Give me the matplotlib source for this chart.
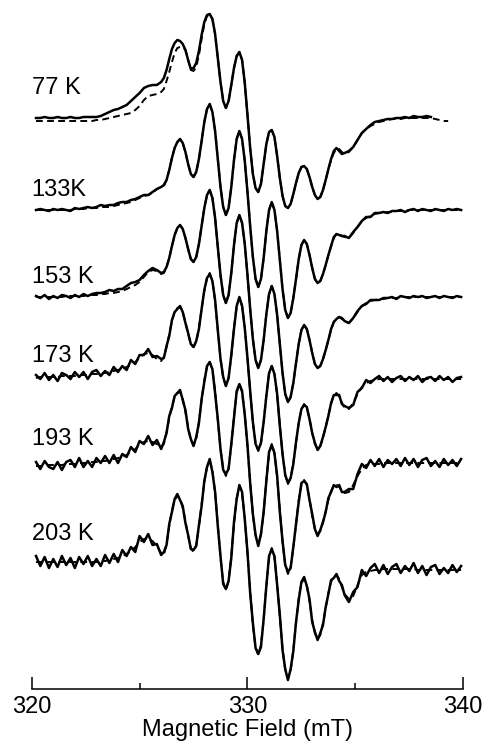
import numpy as np
import matplotlib.pyplot as plt

plt.rcParams['font.family'] = ['Liberation Sans', 'DejaVu Sans']

nan = np.nan

# field sampling (mT): 0.2 on the wings, 0.125 through the hyperfine lines
field = np.concatenate([np.arange(320.2, 325.81, 0.2),
                        np.arange(326.0, 334.51, 0.125),
                        np.arange(334.7, 339.91, 0.2)])

labels = ['77 K', '133K', '153 K', '173 K', '193 K', '203 K']
offsets = [571, 479, 392, 310, 225, 123]
label_y = [601, 499, 412, 333, 250, 155]

# --- 77 K: simulation (dashed) and experiment (solid) ---
fit_77 = [
    -3, -3, -3, -3, -3, -3, -3, -3, -3, -3, -3, -3, -3, -3,
    -2, -2, -1, 0, 1, 2, 3, 4, 5, 8, 12, 18, 22, 23, 24,
    26, 29, 37, 46, 56, 65, 70, 71,
    71, 68, 58, 48, 47,
    51, 63, 79, 94, 102, 103,
    99, 84, 60, 36, 17, 10,
    17, 33, 50, 62, 66,
    58, 35, 3, -30, -56, -70, -74,
    -66, -46, -26, -14, -12,
    -19, -38, -60, -78, -88, -90,
    -86, -76, -65, -55, -49, -48,
    -51, -59, -69, -77, -81,
    -79, -72, -62, -51, -42, -35, -31, -31, -34, -36,
    -34, -29, -22, -15, -11, -8, -6, -4, -3, -2, -1, -1,
    -1, 0, 0, 0, 0, 0, 0, 0, -1, -2, -3, -3, nan, nan, nan,
]
exp_77 = [
    0, 0, 1, 0, 0, 1, 0, 0, 1, 0, 0, 1, 1,
    1, 1, 2, 4, 6, 8, 9, 11, 13, 17, 21, 25, 30, 32, 33, 33,
    36, 40, 48, 59, 69, 75, 78, 77,
    74, 68, 58, 49, 50,
    55, 67, 83, 96, 103, 104,
    99, 84, 60, 36, 17, 10,
    17, 33, 50, 62, 66,
    58, 35, 3, -30, -56, -70, -74,
    -66, -46, -26, -14, -12,
    -19, -38, -60, -78, -88, -90,
    -86, -76, -65, -55, -49, -48,
    -51, -59, -69, -77, -81,
    -79, -72, -62, -51, -41, -33, -30, -33, -36, -35,
    -33, -29, -22, -15, -11, -7, -4, -3, -2, -1, -1, 0,
    0, 1, 0, 2, 1, 1, 2, 1, nan, nan, nan, nan, nan, nan, nan,
]

# --- 133 K ---
fit_133 = [
    0, 0, 0, 0, 0, 0, 0, 0, 0, 1, 1, 1, 2, 2, 2,
    3, 3, 3, 4, 5, 6, 7, 8, 10, 12, 14, 15, 17, 21,
    23, 24, 30, 40, 52, 62, 68, 71,
    67, 58, 46, 36, 33,
    38, 51, 69, 88, 101, 106,
    98, 79, 51, 23, 3, -5,
    2, 23, 50, 71, 79,
    71, 49, 18, -16, -47, -69, -77,
    -69, -48, -21, 0, 8,
    0, -21, -50, -79, -100, -108,
    -103, -88, -69, -49, -35, -30,
    -34, -45, -58, -69, -73,
    -71, -64, -55, -45, -36, -28, -24, -24, -26, -27,
    -28, -23, -17, -11, -8, -6, -4, -3, -3, -2, -2, -1,
    -1, -1, 0, 0, 0, 0, 0, 0, 0, 0, 0, 0, 0, 0, 0,
]
res_133 = [
    0, 1, 0, -1, 1, 0, 1, 0, -1, 1, 0, 1, 1, 0, 1,
    2, 1, 2, 1, 2, 2, 1, 2, 1, 1, 1, 0, 1, 0,
    0, 1, 0, 0, 0, 0, 0, 0,
    0, 0, 0, 0, 0,
    0, 0, 0, 0, 0, 0,
    0, 0, 0, 0, 0, 0,
    0, 0, 0, 0, 0,
    0, 0, 0, 0, 0, 0, 0,
    0, 0, 0, 0, 0,
    0, 0, 0, 0, 0, 0,
    0, 0, 0, 0, 0, 0,
    0, 0, 0, 0, 0,
    0, 0, 0, 0, 0, 1, 0, -1, 0, 1,
    0, 1, 0, 0, 1, -1, 1, 0, 1, -1, 1, 0,
    1, -1, 0, 1, -1, 1, 0, -1, 1, 0, -1, 1, 0, 1, 0,
]

# --- 153 K ---
fit_153 = [
    0, 0, 0, 0, 0, 0, 0, 1, 1, 1, 1, 1, 2, 2, 2,
    3, 3, 4, 4, 5, 6, 8, 10, 12, 15, 20, 25, 27, 26,
    23, 24, 30, 39, 51, 62, 69, 72,
    68, 59, 48, 38, 35,
    40, 53, 71, 89, 102, 107,
    99, 79, 50, 22, 2, -6,
    2, 24, 52, 74, 82,
    74, 53, 22, -12, -42, -63, -71,
    -63, -43, -17, 3, 11,
    3, -18, -47, -76, -97, -105,
    -100, -86, -66, -47, -33, -28,
    -32, -43, -56, -67, -71,
    -69, -62, -53, -43, -33, -25, -21, -20, -22, -24,
    -26, -21, -15, -9, -6, -4, -3, -2, -2, -1, -1, -1,
    0, 0, 0, 0, 0, 0, 0, 0, 0, 0, 0, 0, 0, 0, 0,
]
res_153 = [
    1, -1, 2, -2, 1, -1, 2, 0, -2, 1, -1, 2, -1, 1, 2,
    1, 2, 3, 2, 3, 2, 3, 4, 3, 2, 2, 1, 2, 1,
    1, 1, 0, 0, 0, 0, 0, 0,
    0, 0, 0, 0, 0,
    0, 0, 0, 0, 0, 0,
    0, 0, 0, 0, 0, 0,
    0, 0, 0, 0, 0,
    0, 0, 0, 0, 0, 0, 0,
    0, 0, 0, 0, 0,
    0, 0, 0, 0, 0, 0,
    0, 0, 0, 0, 0, 0,
    0, 0, 0, 0, 0,
    0, 0, 0, 0, 1, 0, -1, 0, 1, 0,
    0, 0, 1, 0, -1, 1, 0, -1, 1, 0, 1, -1,
    1, 0, -1, 1, 0, 1, -1, 0, 1, -1, 1, 0, -1, 1, 0,
]

# --- 173 K ---
fit_173 = [
    1, 2, 2, 2, 2, 2, 3, 3, 3, 3, 4, 4, 4, 5, 5,
    6, 6, 7, 8, 9, 10, 12, 14, 17, 21, 25, 26, 24, 20,
    18, 22, 32, 45, 58, 67, 71, 72,
    67, 57, 45, 35, 32,
    37, 51, 70, 88, 101, 106,
    98, 78, 49, 21, 1, -7,
    1, 23, 51, 73, 81,
    73, 52, 21, -13, -43, -64, -72,
    -64, -43, -16, 5, 13,
    5, -16, -46, -75, -96, -105,
    -99, -84, -64, -44, -30, -25,
    -29, -40, -54, -65, -70,
    -67, -59, -48, -36, -25, -16, -14, -17, -24, -29,
    -30, -24, -15, -8, -4, -2, -1, 0, 0, 0, 0, 0,
    0, 0, 0, 0, 0, 0, 0, 0, 0, 0, 0, 0, 0, 0, 0,
]
res_173 = [
    3, -2, 4, -3, 2, -4, 3, 1, -3, 4, -2, 3, -4, 2, 4,
    -3, 2, -3, 4, -2, 3, -3, 5, -2, 3, -1, 4, -2, 3,
    2, -1, 1, -2, 1, 0, -1, 1,
    0, -1, 1, 0, 0,
    1, -1, 0, 1, 0, -1,
    0, 1, 0, -1, 1, 0,
    0, 1, -1, 0, 1,
    0, -1, 0, 1, 0, -1, 1,
    0, 0, -1, 1, 0,
    0, 1, -1, 0, 0, 1,
    0, -1, 1, 0, 0, -1,
    1, 0, 0, 1, -1,
    0, 1, 0, -1, 1, 0, -2, 1, -1, 2,
    1, -2, 2, -1, 3, -2, 1, 3, -2, 2, -3, 1,
    3, -2, 2, -1, 3, -3, 1, 2, -2, 3, -1, 2, -3, 1, 2,
]

# --- 193 K ---
fit_193 = [
    -2, -2, -2, -1, -1, -1, -1, 0, 0, 0, 1, 1, 1, 2, 2,
    3, 3, 4, 5, 6, 7, 9, 12, 15, 19, 22, 23, 22, 20,
    17, 20, 32, 46, 58, 67, 71, 72,
    65, 52, 37, 24, 19,
    25, 42, 64, 84, 97, 102,
    94, 73, 44, 15, -5, -12,
    -4, 19, 48, 71, 80,
    72, 50, 17, -18, -50, -72, -80,
    -71, -48, -16, 10, 20,
    11, -13, -46, -78, -101, -110,
    -103, -84, -60, -36, -21, -16,
    -21, -35, -52, -65, -70,
    -67, -58, -47, -36, -27, -22, -21, -23, -27, -29,
    -28, -21, -12, -5, -1, 0, 0, 0, 1, 1, 1, 1,
    1, 1, 1, 1, 1, 1, 1, 1, 1, 1, 1, 1, 1, 1, 1,
]
res_193 = [
    4, -3, 5, -2, -4, 3, -5, 2, 4, -3, 5, -4, 2, -5, 4,
    -2, 5, -3, 4, -5, 3, -2, 5, -3, 4, -2, 5, -3, 4,
    -2, 2, -1, 2, -2, 1, 0, 2,
    -1, 2, -2, 1, -1,
    2, -1, 1, -2, 1, 0,
    1, -2, 1, 0, -1, 2,
    -1, 1, -2, 2, 0,
    1, -1, 2, -1, 0, 1, -2,
    1, 0, -1, 2, -1,
    0, 1, -2, 1, 0, 2,
    -1, 1, 0, -2, 2, -1,
    1, -1, 2, 0, -2,
    1, 0, -1, 2, -1, 1, -2, 2, -1, 1,
    3, -4, 2, 5, -3, 4, -2, 5, -4, 3, -1, 4,
    -3, 5, -2, 4, -4, 3, 5, -3, 2, -4, 4, -2, 3, -3, 4,
]

# --- 203 K ---
fit_203 = [
    4, 4, 4, 4, 4, 4, 4, 4, 4, 4, 4, 4, 4, 4, 4,
    5, 5, 6, 7, 8, 10, 12, 15, 19, 24, 27, 27, 25, 20,
    13, 11, 22, 40, 56, 66, 70, 67,
    58, 45, 30, 18, 14,
    21, 39, 62, 84, 99, 105,
    96, 73, 41, 8, -16, -24,
    -15, 10, 42, 68, 80,
    72, 48, 13, -25, -59, -81, -89,
    -79, -54, -20, 8, 18,
    9, -17, -51, -83, -104, -112,
    -105, -84, -57, -32, -17, -13,
    -19, -35, -54, -67, -73,
    -69, -57, -42, -27, -16, -10, -9, -13, -21, -28,
    -33, -30, -19, -9, -6, -5, -4, -4, -3, -3, -3, -3,
    -3, -3, -3, -3, -4, -4, -4, -4, -4, -4, -4, -4, -4, -4, -4,
]
res_203 = [
    6, -4, 5, -6, 3, -5, 6, -3, 4, -6, 5, -2, 6, -4, 3,
    -5, 6, -3, 5, -4, 6, -2, 4, -5, 6, -3, 5, -4, 2,
    -2, 3, -1, 2, -2, 1, 2, -1,
    2, -2, 1, -1, 2,
    -1, 2, -2, 1, 0, 2,
    -2, 1, -1, 2, -2, 1,
    0, -2, 2, -1, 1,
    2, -1, 1, -2, 2, -1, 1,
    -2, 1, 0, 2, -1,
    1, -2, 2, -1, 1, -2,
    2, -1, 1, -2, 1, 2,
    -1, 2, -2, 1, -1,
    2, -2, 1, -1, 2, -2, 1, -2, 2, -1,
    -3, 4, -2, 5, -4, 3, 6, -3, 4, -5, 2, 5,
    -4, 3, -2, 6, -3, 4, -5, 3, 5, -4, 2, -3, 5, -2, 4,
]

fits = [fit_77, fit_133, fit_153, fit_173, fit_193, fit_203]
exps = [exp_77,
        np.add(fit_133, res_133),
        np.add(fit_153, res_153),
        np.add(fit_173, res_173),
        np.add(fit_193, res_193),
        np.add(fit_203, res_203)]

fig = plt.figure(figsize=(4.86, 7.42), dpi=100)
ax = fig.add_axes([0.0652, 0.0714, 0.888, 0.9286])

for lab, off, ly, fit, exp in zip(labels, offsets, label_y, fits, exps):
    ax.plot(field, np.asarray(fit, dtype=float) + off, color='black', lw=1.4,
            ls='--', dashes=(3.5, 2.2))
    ax.plot(field, np.asarray(exp, dtype=float) + off, color='black', lw=1.8)
    ax.text(320.0, ly, lab, fontsize=17, ha='left', va='center')

ax.set_xlim(320, 340)
ax.set_ylim(0, 689)
for side in ['left', 'top', 'right']:
    ax.spines[side].set_visible(False)
ax.spines['bottom'].set_linewidth(1.1)
ax.set_yticks([])
ax.set_xticks([320, 330, 340])
ax.set_xticks([325, 335], minor=True)
ax.tick_params(axis='x', which='major', direction='in', length=9, width=1.1,
               labelsize=17, pad=5)
ax.tick_params(axis='x', which='minor', direction='in', length=4.5, width=1.1)
ax.set_xlabel('Magnetic Field (mT)', fontsize=17, labelpad=1)
ax.patch.set_visible(False)

fig.savefig('out.png', dpi=100)
